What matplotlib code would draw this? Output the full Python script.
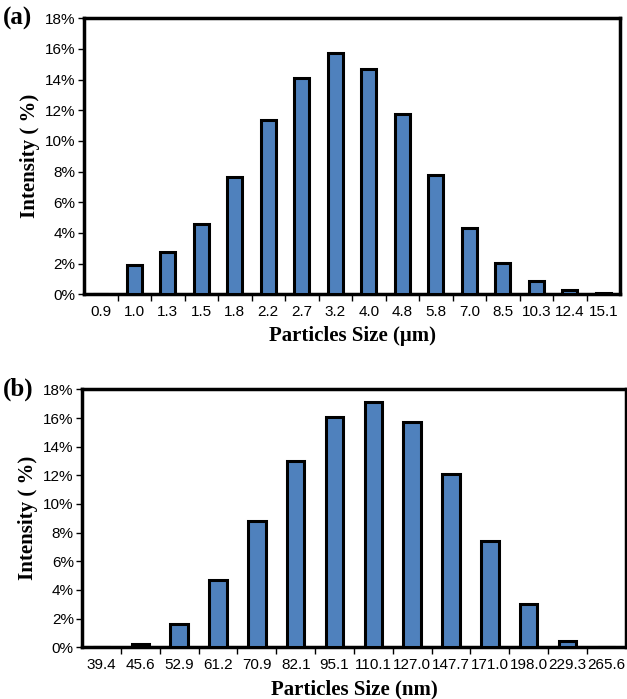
import numpy as np
import matplotlib
matplotlib.use("Agg")
import matplotlib.pyplot as plt
from matplotlib.ticker import FuncFormatter

# Datos (a) - micro
sizes_um = ["0.9", "1.0", "1.3", "1.5", "1.8", "2.2", "2.7", "3.2", "4.0",
            "4.8", "5.8", "7.0", "8.5", "10.3", "12.4", "15.1"]
intens_um = [0, 1.9, 2.75, 4.6, 7.65, 11.35, 14.1, 15.7, 14.7,
             11.75, 7.8, 4.3, 2.05, 0.85, 0.3, 0.08]

# Datos (b) - nano
sizes_nm = ["39.4", "45.6", "52.9", "61.2", "70.9", "82.1", "95.1", "110.1",
            "127.0", "147.7", "171.0", "198.0", "229.3", "265.6"]
intens_nm = [0, 0.2, 1.6, 4.7, 8.8, 13.0, 16.1, 17.1,
             15.7, 12.1, 7.4, 3.0, 0.45, 0]

azul = "#4F81BD"
fig = plt.figure(figsize=(6.27, 6.99), dpi=100)

def panel(rect, labels, vals, xlabel, tag):
    ax = fig.add_axes(rect)
    x = np.arange(len(labels))
    ax.bar(x, vals, width=0.45, color=azul, edgecolor="black", linewidth=2.2, zorder=3)
    ax.set_xlim(-0.5, len(labels) - 0.5)
    ax.set_ylim(0, 18)
    ax.set_yticks(np.arange(0, 19, 2))
    ax.yaxis.set_major_formatter(FuncFormatter(lambda v, p: f"{v:.0f}%"))
    ax.set_xticks(x)
    ax.set_xticklabels(labels, fontsize=11, family="Liberation Sans")
    ax.set_xticks(x[:-1] + 0.5, minor=True)
    ax.tick_params(axis="x", which="major", length=0, pad=8)
    ax.tick_params(axis="x", which="minor", length=5, width=1, direction="out")
    ax.tick_params(axis="y", length=4, width=1, direction="out", labelsize=11, pad=2)
    for t in ax.get_yticklabels():
        t.set_family("Liberation Sans")
    for s in ax.spines.values():
        s.set_linewidth(2.5)
    ax.set_xlabel(xlabel, fontsize=15, fontweight="bold", family="Liberation Serif", labelpad=5)
    ax.set_ylabel("Intensity ( %)", fontsize=15, fontweight="bold", family="Liberation Serif", labelpad=4)
    fig.text(0.005, rect[1] + rect[3], tag, fontsize=18, fontweight="bold",
             family="Liberation Serif", va="center", ha="left")
    return ax

panel([0.134, 0.579, 0.855, 0.395], sizes_um, intens_um, "Particles Size (μm)", "(a)")
panel([0.131, 0.074, 0.867, 0.369], sizes_nm, intens_nm, "Particles Size (nm)", "(b)")

fig.savefig("out.png", dpi=100)
